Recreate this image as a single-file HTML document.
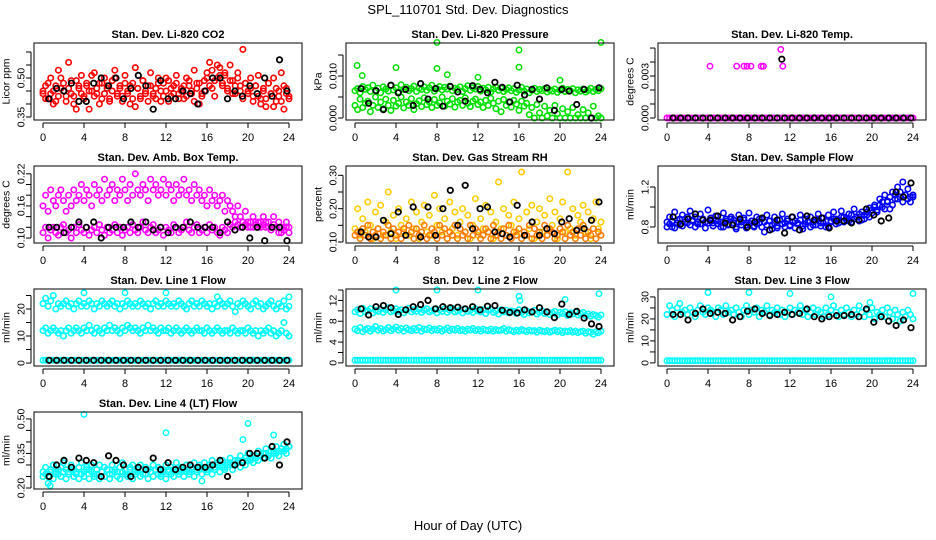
<!DOCTYPE html>
<html><head><meta charset="utf-8"><style>
html,body{margin:0;padding:0;background:#fff;}
svg{display:block;font-family:"Liberation Sans",Arial,sans-serif;}
</style></head><body>
<svg id="chart" width="936" height="540" viewBox="0 0 936 540">
<text x="468" y="14" text-anchor="middle" font-size="13">SPL_110701  Std. Dev. Diagnostics</text>
<text x="468" y="530" text-anchor="middle" font-size="13">Hour of Day (UTC)</text>
</svg>
<script>
const xTicks=[0,4,8,12,16,20,24];
const co2Red=[0.44,0.47,0.42,0.50,0.45,0.41,0.53,0.46,0.48,0.43,0.56,0.44,0.40,0.49,0.46,0.51,0.43,0.47,0.38,0.45,0.52,0.44,0.48,0.42,0.50,0.46,0.41,0.49,0.53,0.44,0.47,0.43,0.51,0.45,0.40,0.48,0.54,0.46,0.42,0.49,0.44,0.47,0.52,0.43,0.46,0.50,0.41,0.48,0.45,0.49,0.43,0.47,0.51,0.44,0.46,0.42,0.50,0.47,0.45,0.53,0.48,0.40,0.44,0.49,0.52,0.56,0.46,0.43,0.50,0.54,0.47,0.51,0.45,0.55,0.49,0.44,0.52,0.47,0.61,0.48,0.45,0.50,0.43,0.47,0.51,0.42,0.46,0.39,0.48,0.44,0.50,0.41,0.45,0.52,0.38,0.46,0.43];
const co2Red2=[0.45,0.42,0.48,0.44,0.40,0.47,0.43,0.50,0.45,0.41,0.46,0.49,0.43,0.38,0.47,0.44,0.42,0.48,0.45,0.51,0.43,0.46,0.40,0.48,0.44,0.47,0.42,0.45,0.50,0.43,0.46,0.41,0.48,0.44,0.47,0.42,0.39,0.46,0.43,0.49,0.45,0.41,0.47,0.44,0.42,0.48,0.45,0.43,0.50,0.41,0.46,0.44,0.48,0.42,0.45,0.47,0.43,0.49,0.44,0.41,0.46,0.48,0.43,0.45,0.50,0.47,0.53,0.49,0.55,0.51,0.48,0.52,0.46,0.49,0.44,0.47,0.50,0.45,0.42,0.48,0.44,0.46,0.41,0.47,0.43,0.40,0.45,0.42,0.48,0.44,0.39,0.46,0.43,0.41,0.47,0.44,0.42];
const co2Black=[0.42,0.46,0.45,0.48,0.41,0.41,0.48,0.50,0.47,0.50,0.42,0.46,0.51,0.47,0.38,0.49,0.42,0.42,0.45,0.44,0.40,0.45,0.50,0.50,0.42,0.45,0.43,0.47,0.44,0.50,0.43,0.57,0.45];
const presA=[0.0065,0.007,0.006,0.0075,0.0068,0.0072,0.0063,0.0078,0.0066,0.0071,0.006,0.0074,0.0069,0.0064,0.0077,0.0067,0.0072,0.0062,0.0079,0.0068,0.0073,0.0065,0.007,0.0076,0.0063,0.0071,0.0068,0.0074,0.0066,0.0072,0.0078,0.0064,0.007,0.0075,0.0067,0.0073,0.0069,0.0076,0.0065,0.0071,0.0068,0.0074,0.0063,0.007,0.0077,0.0066,0.0072,0.0069,0.0075,0.0064,0.0071,0.0067,0.0073,0.0062,0.0069,0.0074,0.0066,0.0071,0.0063,0.0068,0.0072,0.0065,0.007,0.0061,0.0067,0.0073,0.0064,0.0069,0.006,0.0066,0.0071,0.0063,0.0068,0.0065,0.007,0.0062,0.0067,0.0064,0.0069,0.0061,0.0066,0.0071,0.0063,0.0068,0.0065,0.007,0.006,0.0067,0.0064,0.0069,0.0062,0.0066,0.0071,0.0063,0.0068,0.0065,0.007];
const presB=[0.003,0.002,0.0045,0.0025,0.0035,0.004,0.0015,0.003,0.005,0.0025,0.0038,0.0022,0.0045,0.003,0.0018,0.0042,0.0028,0.0035,0.005,0.0024,0.0038,0.003,0.0046,0.002,0.0034,0.0041,0.0027,0.0048,0.0032,0.0038,0.0025,0.0044,0.003,0.0036,0.005,0.0028,0.004,0.0033,0.0046,0.0026,0.0038,0.0042,0.003,0.0048,0.0035,0.0027,0.004,0.0045,0.0032,0.0038,0.0025,0.0042,0.003,0.0047,0.0035,0.0022,0.004,0.0015,0.0044,0.003,0.0038,0.0026,0.0042,0.0033,0.0018,0.004,0.0028,0.0035,0.0008,0.0025,0.0,0.0032,0.0012,0.0,0.0028,0.0005,0.0018,0.0,0.003,0.001,0.0,0.0022,0.0,0.0015,0.0,0.0025,0.0,0.0008,0.0,0.002,0.0,0.0012,0.0,0.0028,0.0,0.0005,0.0];
const presOutHours=[0.2,8,8,16,16,24,4,9,20,0.7,12];
const presOutVals=[0.0125,0.018,0.0118,0.0162,0.0121,0.018,0.012,0.0103,0.009,0.0101,0.0097];
const presBlack=[0.007,0.0035,0.0065,0.002,0.0078,0.006,0.0068,0.003,0.0082,0.0045,0.007,0.0028,0.0075,0.0062,0.004,0.0077,0.0068,0.006,0.0085,0.0073,0.0038,0.0078,0.0055,0.0068,0.0045,0.0072,0.0018,0.0068,0.0064,0.0032,0.0068,0.0,0.0072];
const tempPink=[0,0,0,0,0,0,0,0,0,0,0,0,0,0,0,0,0,0,0,0,0,0,0,0,0,0,0,0,0,0,0,0,0,0,0,0,0,0,0,0,0,0,0,0,0,0,0,0,0,0,0,0,0,0,0,0,0,0,0,0,0,0,0,0,0,0,0,0,0,0,0,0,0,0,0,0,0,0,0,0,0,0,0,0,0,0,0,0,0,0,0,0,0,0,0,0,0];
const tempOutHours=[4.2,6.8,7.5,7.8,8.2,9.2,9.4,11.1,11.3];
const tempOutVals=[0.0037,0.0037,0.0037,0.0037,0.0037,0.0037,0.0037,0.0049,0.0037];
const tempBlack=[0,0,0,0,0,0,0,0,0,0,0,0,0,0,0,0,0,0,0,0,0,0,0,0,0,0,0,0,0,0,0,0,0];
const tempBlackOutHours=[11.2];
const tempBlackOutVals=[0.0042];
const ambA=[0.16,0.18,0.15,0.19,0.17,0.16,0.18,0.19,0.17,0.15,0.18,0.16,0.19,0.17,0.18,0.2,0.17,0.19,0.18,0.16,0.2,0.18,0.19,0.17,0.21,0.18,0.19,0.2,0.17,0.19,0.18,0.21,0.19,0.17,0.2,0.18,0.22,0.19,0.18,0.2,0.19,0.17,0.21,0.19,0.2,0.18,0.19,0.21,0.18,0.2,0.19,0.17,0.2,0.18,0.19,0.21,0.18,0.19,0.17,0.2,0.18,0.19,0.17,0.18,0.16,0.19,0.17,0.18,0.16,0.17,0.18,0.15,0.17,0.16,0.15,0.14,0.16,0.14,0.13,0.15,0.13,0.12,0.14,0.13,0.12,0.13,0.14,0.12,0.13,0.12,0.14,0.12,0.13,0.11,0.12,0.13,0.12];
const ambB=[0.11,0.12,0.1,0.115,0.12,0.11,0.105,0.12,0.125,0.11,0.115,0.1,0.12,0.11,0.125,0.115,0.11,0.12,0.105,0.115,0.12,0.11,0.125,0.115,0.105,0.12,0.11,0.115,0.125,0.11,0.12,0.105,0.115,0.12,0.11,0.125,0.115,0.11,0.12,0.13,0.115,0.11,0.12,0.125,0.11,0.115,0.12,0.105,0.12,0.115,0.11,0.125,0.12,0.11,0.115,0.12,0.13,0.115,0.11,0.12,0.125,0.11,0.115,0.12,0.11,0.125,0.115,0.12,0.11,0.105,0.12,0.115,0.11,0.125,0.12,0.13,0.125,0.12,0.13,0.125,0.12,0.13,0.12,0.125,0.13,0.12,0.125,0.13,0.12,0.115,0.125,0.12,0.11,0.12,0.115,0.12,0.11];
const ambBlack=[0.12,0.12,0.11,0.12,0.13,0.12,0.13,0.10,0.12,0.12,0.12,0.13,0.12,0.13,0.115,0.12,0.11,0.12,0.12,0.13,0.12,0.12,0.12,0.11,0.13,0.115,0.12,0.10,0.12,0.095,0.12,0.12,0.095];
const rhA=[0.14,0.2,0.12,0.17,0.13,0.22,0.15,0.11,0.19,0.14,0.21,0.12,0.16,0.25,0.13,0.18,0.11,0.2,0.15,0.13,0.17,0.12,0.22,0.14,0.19,0.11,0.16,0.21,0.13,0.18,0.12,0.24,0.15,0.2,0.13,0.17,0.11,0.22,0.14,0.19,0.12,0.16,0.2,0.13,0.18,0.11,0.15,0.23,0.12,0.17,0.14,0.21,0.13,0.19,0.11,0.16,0.28,0.14,0.2,0.12,0.18,0.15,0.22,0.13,0.17,0.31,0.12,0.19,0.14,0.21,0.11,0.16,0.2,0.13,0.18,0.12,0.23,0.15,0.19,0.11,0.17,0.22,0.13,0.31,0.14,0.2,0.12,0.18,0.16,0.21,0.13,0.19,0.11,0.17,0.22,0.14,0.16];
const rhB=[0.12,0.13,0.11,0.14,0.12,0.15,0.11,0.13,0.12,0.14,0.11,0.13,0.12,0.15,0.11,0.14,0.12,0.13,0.11,0.14,0.12,0.15,0.13,0.11,0.14,0.12,0.13,0.15,0.11,0.12,0.14,0.13,0.11,0.15,0.12,0.14,0.11,0.13,0.12,0.15,0.11,0.14,0.12,0.13,0.11,0.15,0.12,0.14,0.13,0.11,0.12,0.14,0.13,0.11,0.15,0.12,0.13,0.11,0.14,0.12,0.15,0.11,0.13,0.12,0.14,0.11,0.13,0.12,0.15,0.11,0.14,0.12,0.13,0.11,0.15,0.12,0.14,0.13,0.11,0.12,0.14,0.13,0.11,0.15,0.12,0.13,0.11,0.14,0.12,0.15,0.11,0.13,0.12,0.14,0.11,0.13,0.12];
const rhBlack=[0.13,0.115,0.115,0.165,0.125,0.19,0.12,0.205,0.115,0.205,0.12,0.2,0.255,0.15,0.27,0.14,0.2,0.205,0.13,0.125,0.115,0.21,0.12,0.16,0.12,0.14,0.125,0.16,0.17,0.135,0.14,0.165,0.22];
const flowA=[0.85,0.9,0.8,0.95,0.87,0.82,0.92,0.88,0.84,0.96,0.86,0.9,0.83,0.93,0.88,0.85,0.97,0.89,0.84,0.91,0.86,0.8,0.94,0.88,0.83,0.9,0.87,0.78,0.92,0.85,0.89,0.82,0.94,0.86,0.8,0.9,0.84,0.88,0.75,0.92,0.86,0.82,0.9,0.79,0.87,0.93,0.84,0.88,0.81,0.9,0.86,0.83,0.92,0.78,0.88,0.85,0.9,0.82,0.87,0.93,0.84,0.89,0.8,0.92,0.86,0.95,0.88,0.84,0.96,0.9,0.87,0.93,0.85,0.98,0.9,0.86,0.95,0.88,0.92,0.99,0.94,1.02,0.97,1.08,1.0,1.12,1.05,0.98,1.15,1.08,1.2,1.1,1.25,1.12,1.18,1.05,1.1];
const flowB=[0.8,0.83,0.86,0.79,0.84,0.88,0.81,0.85,0.9,0.82,0.87,0.8,0.85,0.83,0.88,0.79,0.84,0.86,0.81,0.87,0.83,0.85,0.8,0.86,0.82,0.88,0.84,0.8,0.85,0.82,0.87,0.79,0.84,0.86,0.81,0.83,0.88,0.8,0.85,0.82,0.86,0.78,0.84,0.81,0.87,0.83,0.8,0.86,0.82,0.85,0.79,0.84,0.87,0.81,0.83,0.86,0.8,0.85,0.82,0.88,0.81,0.84,0.86,0.8,0.85,0.88,0.83,0.87,0.9,0.85,0.89,0.86,0.92,0.88,0.9,0.93,0.87,0.92,0.95,0.9,0.97,1.0,0.95,1.02,1.05,0.98,1.06,1.1,1.02,1.12,1.08,1.15,1.05,1.12,1.08,1.1,1.12];
const flowBlack=[0.9,0.83,0.88,0.93,0.87,0.87,0.91,0.84,0.82,0.88,0.8,0.85,0.89,0.77,0.87,0.74,0.9,0.77,0.91,0.87,0.89,0.79,0.86,0.86,0.84,0.87,0.98,0.92,0.86,0.89,1.15,1.1,1.24];
const line1A=[22,24,21,23,25,20,22,21,22,23,21,22,20,22,23,21,22,21,23,22,20,22,21,23,22,21,22,23,21,22,20,22,21,23,22,21,22,21,23,22,21,22,20,22,23,21,22,21,23,22,21,22,21,23,22,21,20,22,23,21,22,21,23,22,21,22,20,22,21,23,22,21,22,23,21,19,22,21,23,22,21,20,22,23,21,22,20,21,22,23,21,20,22,21,23,20,21];
const line1B=[12,13,11,12,13,12,11,12,10,12,13,11,12,13,12,11,13,12,14,12,11,13,12,11,13,12,14,12,13,12,11,13,12,14,13,12,13,12,11,13,12,14,12,13,12,11,13,12,12,13,11,12,13,12,11,12,13,12,11,12,13,12,12,11,13,12,11,12,13,12,11,12,12,11,13,12,11,12,12,11,13,12,11,12,10,12,11,12,13,11,12,10,11,12,15,11,10];
const line1C=[1,1,1,1,1,1,1,1,1,1,1,1,1,1,1,1,1,1,1,1,1,1,1,1,1,1,1,1,1,1,1,1,1,1,1,1,1,1,1,1,1,1,1,1,1,1,1,1,1,1,1,1,1,1,1,1,1,1,1,1,1,1,1,1,1,1,1,1,1,1,1,1,1,1,1,1,1,1,1,1,1,1,1,1,1,1,1,1,1,1,1,1,1,1,1,1,1];
const line1OutHours=[4,8,12,17,24];
const line1OutVals=[26,26,26,24.5,24.5];
const line1Black=[1,1,1,1,1,1,1,1,1,1,1,1,1,1,1,1,1,1,1,1,1,1,1,1,1,1,1,1,1,1,1,1,1];
const line2A=[9.8,10.2,9.5,10.5,9.8,10,10.4,9.6,10.1,9.9,10.3,9.7,10.2,10.6,9.8,10,10.4,9.9,10.2,9.6,10.1,10.5,9.8,10.2,9.9,10.3,9.7,10.1,10.4,9.8,10,10.3,9.6,10.2,9.9,10.4,9.7,10.1,10.5,9.8,10,10.2,9.6,10.3,9.9,10.1,9.7,10.4,10,9.8,10.2,9.5,10.1,10.3,9.7,10,9.4,10.2,9.8,10.1,9.6,10,9.9,9.5,10.2,9.7,9.3,10,9.6,9.8,10.1,9.4,9.7,10,9.5,9.8,9.3,9.6,9.9,9.2,9.7,9.5,9.8,9.1,9.6,9.4,9.8,9.2,9.5,9.7,9.1,9.4,9,9.3,9.1,8.8,9.2];
const line2B=[6.5,6.2,6.8,6,6.4,6.6,6.1,6.5,7,6.3,6.6,6.1,6.4,6.8,6.2,6.5,6.9,6.3,6.6,6.1,6.7,6.4,6.2,6.6,6.3,6.8,6.1,6.5,6.4,6.7,6.2,6.5,6.3,6.6,6.1,6.4,6.7,6.2,6.5,6.3,6.6,6.2,6.4,6.1,6.5,6.3,6.6,6.2,6.4,6.1,6.5,6.3,6.2,6.5,6.1,6.4,6.2,6.3,6.6,6.1,6.4,6.2,6,6.3,6.1,6.4,6.2,6,6.3,6.1,6.2,5.9,6.3,6.1,6,6.2,5.9,6.1,6.3,6,6.2,5.8,6.1,6,6.2,5.9,6.1,5.8,6,6.1,5.7,6,5.9,5.5,6,5.8,6.1];
const line2C=[0.5,0.5,0.5,0.5,0.5,0.5,0.5,0.5,0.5,0.5,0.5,0.5,0.5,0.5,0.5,0.5,0.5,0.5,0.5,0.5,0.5,0.5,0.5,0.5,0.5,0.5,0.5,0.5,0.5,0.5,0.5,0.5,0.5,0.5,0.5,0.5,0.5,0.5,0.5,0.5,0.5,0.5,0.5,0.5,0.5,0.5,0.5,0.5,0.5,0.5,0.5,0.5,0.5,0.5,0.5,0.5,0.5,0.5,0.5,0.5,0.5,0.5,0.5,0.5,0.5,0.5,0.5,0.5,0.5,0.5,0.5,0.5,0.5,0.5,0.5,0.5,0.5,0.5,0.5,0.5,0.5,0.5,0.5,0.5,0.5,0.5,0.5,0.5,0.5,0.5,0.5,0.5,0.5,0.5,0.5,0.5,0.5];
const line2OutHours=[4,8,12,16,23.8,20.5,16.1];
const line2OutVals=[14,14,14,12.8,13.3,12.2,12];
const line2Black=[10.4,9.2,10.8,11,10.6,9.3,10.2,10.8,11.2,12,10.4,10.8,10.6,10.7,10.4,10.8,10.2,10.9,11,10.1,9.7,9.6,10.2,9.8,10.6,9.8,8.7,11.3,9.3,9.9,8.6,7.5,7];
const line3A=[22,26,24,21,25,27,23,24,22,25,23,21,24,26,23,22,25,24,23,21,25,24,22,26,23,24,22,25,23,21,24,26,22,24,23,25,21,24,23,26,22,24,23,25,22,24,21,23,25,22,24,23,26,22,24,21,23,25,22,24,23,21,25,22,24,26,23,21,24,22,25,23,21,24,22,26,23,21,24,22,25,20,23,22,24,21,25,23,20,24,22,19,23,21,24,22,20];
const line3C=[1,1,1,1,1,1,1,1,1,1,1,1,1,1,1,1,1,1,1,1,1,1,1,1,1,1,1,1,1,1,1,1,1,1,1,1,1,1,1,1,1,1,1,1,1,1,1,1,1,1,1,1,1,1,1,1,1,1,1,1,1,1,1,1,1,1,1,1,1,1,1,1,1,1,1,1,1,1,1,1,1,1,1,1,1,1,1,1,1,1,1,1,1,1,1,1,1];
const line3OutHours=[4,8,12,16,19.8,24];
const line3OutVals=[32,32,31.5,30,27.5,31.5];
const line3Black=[22,22,19.5,22.5,24.5,22.5,23,22.5,19.5,21,23.5,24.5,22.5,21.5,22,23,22,22.5,24.5,21,20,21,21.5,21.5,22,21,24.5,18.5,21,19,17,19.5,16];
const line4A=[0.27,0.29,0.25,0.28,0.3,0.27,0.26,0.29,0.31,0.28,0.27,0.3,0.28,0.26,0.29,0.31,0.27,0.29,0.28,0.3,0.26,0.28,0.3,0.27,0.29,0.28,0.26,0.3,0.28,0.27,0.29,0.31,0.28,0.26,0.29,0.3,0.27,0.28,0.3,0.26,0.29,0.28,0.27,0.3,0.28,0.29,0.26,0.28,0.3,0.27,0.29,0.28,0.31,0.27,0.29,0.28,0.3,0.27,0.29,0.31,0.28,0.3,0.29,0.31,0.28,0.3,0.32,0.29,0.31,0.3,0.32,0.29,0.31,0.33,0.3,0.32,0.31,0.34,0.32,0.33,0.35,0.32,0.34,0.33,0.36,0.34,0.35,0.37,0.34,0.36,0.35,0.38,0.36,0.37,0.39,0.37,0.38];
const line4B=[0.25,0.26,0.22,0.27,0.24,0.26,0.28,0.25,0.27,0.24,0.26,0.28,0.25,0.27,0.24,0.26,0.25,0.28,0.24,0.27,0.25,0.26,0.24,0.27,0.25,0.28,0.24,0.26,0.27,0.25,0.24,0.27,0.26,0.25,0.28,0.24,0.26,0.27,0.25,0.28,0.26,0.24,0.27,0.25,0.28,0.26,0.25,0.27,0.24,0.28,0.26,0.25,0.27,0.26,0.28,0.25,0.27,0.26,0.28,0.25,0.27,0.29,0.26,0.28,0.27,0.29,0.26,0.28,0.3,0.27,0.29,0.28,0.3,0.31,0.28,0.3,0.32,0.29,0.31,0.3,0.32,0.33,0.31,0.33,0.32,0.34,0.33,0.35,0.34,0.33,0.36,0.35,0.34,0.37,0.36,0.35,0.38];
const line4OutHours=[4,12,20,19.5,22.5,15.5,0.7];
const line4OutVals=[0.52,0.44,0.48,0.41,0.43,0.23,0.21];
const line4Black=[0.25,0.30,0.32,0.29,0.33,0.32,0.31,0.25,0.34,0.32,0.30,0.25,0.29,0.28,0.33,0.28,0.31,0.28,0.29,0.30,0.29,0.29,0.30,0.32,0.25,0.30,0.31,0.35,0.35,0.33,0.38,0.30,0.40];

const NS='http://www.w3.org/2000/svg';
const svg=document.getElementById('chart');
function mk(tag,attrs,parent){const e=document.createElementNS(NS,tag);for(const k in attrs)e.setAttribute(k,attrs[k]);(parent||svg).appendChild(e);return e;}
function fmt(v,d){return v.toFixed(d);}

const panels=[
 {r:0,c:0,key:'co2',title:'Stan. Dev. Li-820 CO2',ylab:'Licor ppm',lo:0.3385,hi:0.6346,ticks:[0.35,0.40,0.45,0.50,0.55,0.60],labels:[0.35,0.50],dec:2,series:[[co2Red,'#ff0000'],[co2Red2,'#ff0000']],outs:[],black:co2Black},
 {r:0,c:1,key:'pressure',title:'Stan. Dev. Li-820 Pressure',ylab:'kPa',lo:-0.00048,hi:0.01786,ticks:[0,0.005,0.01,0.015],labels:[0,0.01],dec:3,series:[[presA,'#00e000'],[presB,'#00e000']],outs:[[presOutHours,presOutVals,'#00e000']],black:presBlack},
 {r:0,c:2,key:'temp',title:'Stan. Dev. Li-820 Temp.',ylab:'degrees C',lo:-0.000143,hi:0.00536,ticks:[0,0.001,0.002,0.003,0.004,0.005],labels:[0,0.003],dec:3,series:[[tempPink,'#ff00ff']],outs:[[tempOutHours,tempOutVals,'#ff00ff']],black:tempBlack,blackOuts:[tempBlackOutHours,tempBlackOutVals]},
 {r:1,c:0,key:'ambbox',title:'Stan. Dev. Amb. Box Temp.',ylab:'degrees C',lo:0.0907,hi:0.2346,ticks:[0.10,0.12,0.14,0.16,0.18,0.20,0.22],labels:[0.10,0.16,0.22],dec:2,series:[[ambA,'#ff00ff'],[ambB,'#ff00ff']],outs:[],black:ambBlack},
 {r:1,c:1,key:'rh',title:'Stan. Dev. Gas Stream RH',ylab:'percent',lo:0.097,hi:0.328,ticks:[0.10,0.15,0.20,0.25,0.30],labels:[0.10,0.20,0.30],dec:2,series:[[rhA,'#ffcc00'],[rhB,'#ff7a00']],outs:[],black:rhBlack},
 {r:1,c:2,key:'sampleflow',title:'Stan. Dev. Sample Flow',ylab:'ml/min',lo:0.64,hi:1.41,ticks:[0.8,1.0,1.2],labels:[0.8,1.2],dec:1,series:[[flowA,'#0000ff'],[flowB,'#0000ff']],outs:[],black:flowBlack},
 {r:2,c:0,key:'line1',title:'Stan. Dev. Line 1 Flow',ylab:'ml/min',lo:-1.1,hi:27.4,ticks:[0,5,10,15,20,25],labels:[0,10,20],dec:0,series:[[line1A,'#00ffff'],[line1B,'#00ffff'],[line1C,'#00ffff']],outs:[[line1OutHours,line1OutVals,'#00ffff']],black:line1Black},
 {r:2,c:1,key:'line2',title:'Stan. Dev. Line 2 Flow',ylab:'ml/min',lo:-0.6,hi:14.2,ticks:[0,2,4,6,8,10,12,14],labels:[0,4,8,12],dec:0,series:[[line2A,'#00ffff'],[line2B,'#00ffff'],[line2C,'#00ffff']],outs:[[line2OutHours,line2OutVals,'#00ffff']],black:line2Black},
 {r:2,c:2,key:'line3',title:'Stan. Dev. Line 3 Flow',ylab:'ml/min',lo:-1.4,hi:33.6,ticks:[0,5,10,15,20,25,30],labels:[0,10,20,30],dec:0,series:[[line3A,'#00ffff'],[line3C,'#00ffff']],outs:[[line3OutHours,line3OutVals,'#00ffff']],black:line3Black},
 {r:3,c:0,key:'line4',title:'Stan. Dev. Line 4 (LT) Flow',ylab:'ml/min',lo:0.1956,hi:0.530,ticks:[0.20,0.25,0.30,0.35,0.40,0.45,0.50],labels:[0.20,0.35,0.50],dec:2,series:[[line4A,'#00ffff'],[line4B,'#00ffff']],outs:[[line4OutHours,line4OutVals,'#00ffff']],black:line4Black}
];

function pt(g,x,y,col,w){
 const c=mk('circle',{cx:x.toFixed(1),cy:y.toFixed(1),r:2.7,fill:'none',stroke:col,'stroke-width':w},g);
 
 
}

panels.forEach(p=>{
 const L=34+312*p.c, T=43+123*p.r, W=268, H=77, B=T+H;
 const g=mk('g',{});
 
 
 const X=h=>L+9+h*(246/24);
 const Y=v=>B-(v-p.lo)/(p.hi-p.lo)*H;
 const t=mk('text',{x:L+W/2,y:T-5,'text-anchor':'middle','font-size':11,'font-weight':'bold'},g);
 t.textContent=p.title;
 
 
 const pg=mk('g',{},g);
 
 
 p.series.forEach(([arr,col])=>{arr.forEach((v,i)=>pt(pg,X(i*24/(arr.length-1)),Y(v),col,1.6));});
 p.outs.forEach(([hs,vs,col])=>{hs.forEach((h,i)=>pt(pg,X(h),Y(vs[i]),col,1.5));});
 p.black.forEach((v,i)=>pt(pg,X(0.6+i*23.2/(p.black.length-1)),Y(v),'#000',1.8));
 if(p.blackOuts){p.blackOuts[0].forEach((h,i)=>pt(pg,X(h),Y(p.blackOuts[1][i]),'#000',1.8));}
 const bx=mk('rect',{x:L,y:T,width:W,height:H,fill:'none',stroke:'#000','stroke-width':1},g);
 
 
 const xa=mk('g',{},g);
 
 
 mk('line',{x1:X(0),x2:X(24),y1:B+3,y2:B+3,stroke:'#000'},xa);
 xTicks.forEach(h=>{
  mk('line',{x1:X(h),x2:X(h),y1:B+3,y2:B+8,stroke:'#000'},xa);
  const tl=mk('text',{x:X(h),y:B+21,'text-anchor':'middle','font-size':11},xa);
  tl.textContent=h;
  
  
 });
 const ya=mk('g',{},g);
 
 
 const t0=p.ticks[0],t1=p.ticks[p.ticks.length-1];
 mk('line',{x1:L-3,x2:L-3,y1:Y(t0),y2:Y(t1),stroke:'#000'},ya);
 p.ticks.forEach(v=>mk('line',{x1:L-8,x2:L-3,y1:Y(v),y2:Y(v),stroke:'#000'},ya));
 p.labels.forEach(v=>{
  const y=Y(v);
  const tl=mk('text',{x:L-13,y:y,'text-anchor':'middle','font-size':10.5,transform:`rotate(-90 ${L-13} ${y})`,dy:'0.35em'},ya);
  tl.textContent=fmt(v,p.dec);
  
  
 });
 const yl=mk('text',{x:L-28,y:T+H/2,'text-anchor':'middle','font-size':10.5,transform:`rotate(-90 ${L-28} ${T+H/2})`,dy:'0.35em'},g);
 yl.textContent=p.ylab;
 
 
});
</script>
</body></html>
